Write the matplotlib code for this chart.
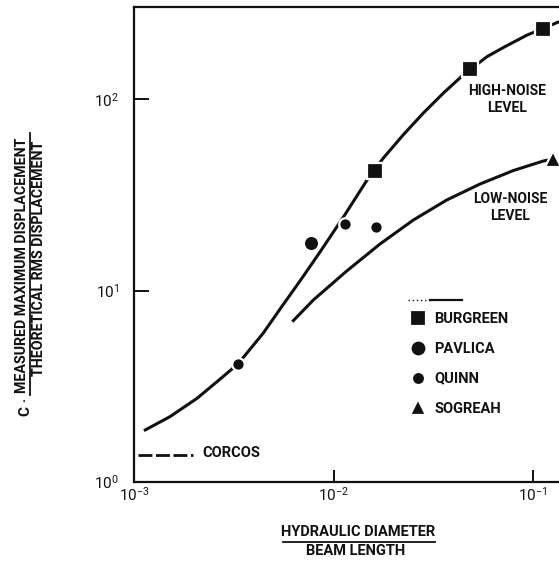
import matplotlib
matplotlib.use("Agg")
import matplotlib.pyplot as plt
from matplotlib.lines import Line2D

FONT = ['Roboto', 'DejaVu Sans']
plt.rcParams['font.family'] = FONT
plt.rcParams['mathtext.fontset'] = 'custom'
plt.rcParams['mathtext.rm'] = 'Roboto'
plt.rcParams['mathtext.it'] = 'Roboto:italic'
plt.rcParams['mathtext.bf'] = 'Roboto:bold'

# ---------------- data ----------------
burgreen_x = [0.0161, 0.0483, 0.1127]
burgreen_y = [42.4, 143.9, 232.3]

pavlica_x = [0.00771]
pavlica_y = [17.8]

quinn_x = [0.00333, 0.01143, 0.0163]
quinn_y = [4.13, 22.4, 21.6]

sogreah_x = [0.1259]
sogreah_y = [48.5]

high_x = [0.001122, 0.001514, 0.002070, 0.002606, 0.003320, 0.004436, 0.005395,
          0.006792, 0.008551, 0.01117, 0.01473, 0.01771, 0.02230, 0.02812,
          0.03540, 0.04457, 0.05875, 0.07244, 0.09333, 0.1122, 0.1349]
high_y = [1.849, 2.188, 2.729, 3.334, 4.130, 5.970, 8.000,
          11.22, 15.89, 24.09, 37.84, 49.09, 65.01, 84.53,
          107.4, 133.9, 167.1, 188.8, 216.8, 234.5, 254.7]

low_x = [0.006216, 0.007920, 0.01165, 0.01710, 0.02512, 0.03693, 0.05424,
         0.07966, 0.1126, 0.1241]
low_y = [6.869, 8.918, 12.65, 17.51, 23.37, 29.74, 36.06,
         42.42, 47.57, 48.56]

corcos_x = [0.00105, 0.00198]
corcos_y = [1.38, 1.38]

x_ticks = [1e-3, 1e-2, 1e-1]
x_tick_labels = [r'$10^{-3}$', r'$10^{-2}$', r'$10^{-1}$']
y_ticks = [1e0, 1e1, 1e2]
y_tick_labels = [r'$10^{0}$', r'$10^{1}$', r'$10^{2}$']

legend_labels = ['BURGREEN', 'PAVLICA', 'QUINN', 'SOGREAH']

# ---------------- figure ----------------
fig = plt.figure(figsize=(5.59, 5.62), dpi=100)
ax = fig.add_axes([0.2397, 0.1429, 0.7603, 0.8441])
ax.set_xscale('log')
ax.set_yscale('log')
ax.set_xlim(1e-3, 0.1349)
ax.set_ylim(1e0, 302.9)

ink = '#111111'
ax.plot(high_x, high_y, color=ink, lw=2.2, solid_capstyle='butt',
        solid_joinstyle='round', zorder=2)
ax.plot(low_x, low_y, color=ink, lw=2.2, solid_capstyle='butt',
        solid_joinstyle='round', zorder=2)
ax.plot(corcos_x, corcos_y, color=ink, lw=2.0, dashes=(5, 1.3), zorder=2)

mk = dict(linestyle='none', color=ink, mec='white', mew=1.6, zorder=3, clip_on=False)
h1, = ax.plot(burgreen_x, burgreen_y, marker='s', ms=11, label=legend_labels[0], **mk)
h2, = ax.plot(pavlica_x, pavlica_y, marker='o', ms=11, label=legend_labels[1], **mk)
h3, = ax.plot(quinn_x, quinn_y, marker='o', ms=9, label=legend_labels[2], **mk)
h4, = ax.plot(sogreah_x, sogreah_y, marker='^', ms=11, label=legend_labels[3], **mk)

# axes styling
for side in ['left', 'bottom', 'top']:
    ax.spines[side].set_linewidth(1.6)
    ax.spines[side].set_color(ink)
ax.spines['right'].set_visible(False)
ax.set_xticks(x_ticks)
ax.set_xticklabels(x_tick_labels)
ax.set_yticks(y_ticks)
ax.set_yticklabels(y_tick_labels)
ax.minorticks_off()
ax.tick_params(axis='x', which='major', direction='in', length=9, width=1.4,
               pad=3, labelsize=11, colors=ink, top=False)
ax.tick_params(axis='y', which='major', direction='in', length=11, width=1.4,
               pad=11, labelsize=11, colors=ink, right=False)

# legend
leg = ax.legend(handles=[h1, h2, h3, h4], loc='upper left',
                bbox_to_anchor=(0.652, 0.358), frameon=False, borderpad=0,
                borderaxespad=0, handlelength=1.0, handletextpad=0.6,
                labelspacing=1.09, markerscale=1.05,
                prop=dict(family=FONT, weight='bold', size=10.5))
for t in leg.get_texts():
    t.set_color(ink)
ax.add_line(Line2D([0.645, 0.696], [0.383, 0.383], transform=ax.transAxes,
                   color=ink, lw=1.0, ls=(0, (1, 2))))
ax.add_line(Line2D([0.696, 0.772], [0.383, 0.383], transform=ax.transAxes,
                   color=ink, lw=1.6))

# curve annotations
txt = dict(family=FONT, weight='bold', color=ink, ha='center', va='center',
           linespacing=1.3, transform=ax.transAxes)
ax.text(0.878, 0.806, 'HIGH-NOISE\nLEVEL', fontsize=10, **txt)
ax.text(0.885, 0.578, 'LOW-NOISE\nLEVEL', fontsize=10, **txt)
ax.text(0.162, 0.0605, 'CORCOS', fontsize=10.5, family=FONT, weight='bold',
        color=ink, ha='left', va='center', transform=ax.transAxes)

# x label as a fraction
fig.text(0.640, 0.0534, 'HYDRAULIC DIAMETER', fontsize=10.5, weight='bold',
         family=FONT, color=ink, ha='center', va='center')
fig.text(0.637, 0.0196, 'BEAM LENGTH', fontsize=10.5, weight='bold',
         family=FONT, color=ink, ha='center', va='center')
fig.add_artist(Line2D([0.506, 0.778], [0.0356, 0.0356], transform=fig.transFigure,
                      color=ink, lw=1.3))

# y label as a fraction
fig.text(0.0394, 0.528, 'MEASURED MAXIMUM DISPLACEMENT', fontsize=10.3, weight='bold',
         family=FONT, color=ink, ha='center', va='center', rotation=90)
fig.text(0.0698, 0.541, 'THEORETICAL RMS DISPLACEMENT', fontsize=10.3, weight='bold',
         family=FONT, color=ink, ha='center', va='center', rotation=90)
fig.add_artist(Line2D([0.0537, 0.0537], [0.297, 0.763], transform=fig.transFigure,
                      color=ink, lw=1.3))
fig.text(0.0470, 0.276, 'C \u00b7', fontsize=11, weight='bold',
         family=FONT, color=ink, ha='center', va='center', rotation=90)

fig.savefig('out.png', dpi=100)
